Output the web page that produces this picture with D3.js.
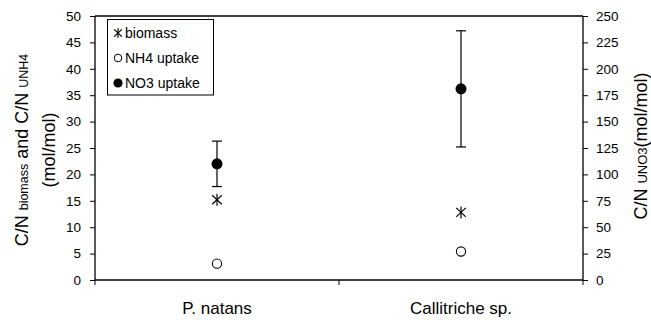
<!DOCTYPE html>
<html><head><meta charset="utf-8">
<script src="https://cdn.jsdelivr.net/npm/d3@7"></script>
<style>body{margin:0;background:#fff}svg{display:block}text{font-family:"Liberation Sans",Arial,sans-serif;fill:#000}</style>
</head><body>
<svg id="c" width="651" height="320"></svg>
<script>
const categories = ["P. natans", "Callitriche sp."];
const biomass = [15.2, 12.8];        // left axis
const nh4Uptake = [3.1, 5.4];        // left axis
const no3Uptake = [110, 181];        // right axis
const no3Err = [21.5, 55];           // right axis
const leftTicks = [0,5,10,15,20,25,30,35,40,45,50];
const rightTicks = [0,25,50,75,100,125,150,175,200,225,250];
const legendLabels = ["biomass", "NH4 uptake", "NO3 uptake"];

const svg = d3.select("#c");
const L = 95, R = 583, T = 16, B = 280;
const x = d3.scaleBand().domain(categories).range([L, R]).padding(0);
const yL = d3.scaleLinear().domain([0, 50]).range([B, T]);
const yR = d3.scaleLinear().domain([0, 250]).range([B, T]);

svg.append("line").attr("x1", L).attr("x2", R).attr("y1", T).attr("y2", T).attr("stroke", "#000").attr("stroke-width", 1.3);

const gl = svg.append("g").attr("transform", `translate(${L},0)`)
  .call(d3.axisLeft(yL).tickValues(leftTicks).tickSize(5).tickPadding(9));
const gr = svg.append("g").attr("transform", `translate(${R},0)`)
  .call(d3.axisRight(yR).tickValues(rightTicks).tickSize(5).tickPadding(8));
[gl, gr].forEach(g => {
  g.select(".domain").attr("stroke-width", 1.3);
  g.selectAll("text").style("font-size", "13.5px").style("font-family", '"Liberation Sans",Arial,sans-serif');
});
gl.select(".domain").attr("d", `M-0,${T}H0V${B}`);
gr.select(".domain").attr("d", `M0,${T}H0V${B}`);

const gx = svg.append("g").attr("transform", `translate(0,${B})`);
gx.append("line").attr("x1", L).attr("x2", R).attr("stroke", "#000").attr("stroke-width", 1.3);
const bounds = [L, L + x.bandwidth(), R];
gx.selectAll("line.t").data(bounds).enter().append("line").attr("class", "t")
  .attr("x1", d => d).attr("x2", d => d).attr("y1", 0).attr("y2", 5).attr("stroke", "#000");
gx.selectAll("text").data(categories).enter().append("text")
  .attr("x", d => x(d) + x.bandwidth() / 2).attr("y", 34)
  .attr("text-anchor", "middle").style("font-size", "17px").text(d => d);

function star(g, cx, cy, s) {
  const p = g.append("g").attr("transform", `translate(${cx},${cy})`).attr("stroke", "#000").attr("stroke-width", 1.2);
  p.append("line").attr("x1", 0).attr("x2", 0).attr("y1", -s).attr("y2", s);
  const a = s * 0.8, b = s * 0.75;
  p.append("line").attr("x1", -a).attr("x2", a).attr("y1", -b).attr("y2", b);
  p.append("line").attr("x1", -a).attr("x2", a).attr("y1", b).attr("y2", -b);
}

const plot = svg.append("g");
categories.forEach((c, i) => {
  const cx = x(c) + x.bandwidth() / 2;
  const top = yR(no3Uptake[i] + no3Err[i]), bot = yR(no3Uptake[i] - no3Err[i]);
  plot.append("line").attr("x1", cx).attr("x2", cx).attr("y1", top).attr("y2", bot).attr("stroke", "#000").attr("stroke-width", 1.2);
  [top, bot].forEach(yy => plot.append("line").attr("x1", cx - 5).attr("x2", cx + 5).attr("y1", yy).attr("y2", yy).attr("stroke", "#000").attr("stroke-width", 1.2));
  plot.append("circle").attr("cx", cx).attr("cy", yR(no3Uptake[i])).attr("r", 5.5).attr("fill", "#000");
  star(plot, cx, yL(biomass[i]), 6);
  plot.append("circle").attr("cx", cx).attr("cy", yL(nh4Uptake[i])).attr("r", 4.6).attr("fill", "#fff").attr("stroke", "#000").attr("stroke-width", 1.1);
});

const lg = svg.append("g");
lg.append("rect").attr("x", 107.5).attr("y", 19.5).attr("width", 106).attr("height", 75.5).attr("fill", "#fff").attr("stroke", "#000").attr("stroke-width", 1);
const rowsY = [33, 58, 83];
star(lg, 118, rowsY[0], 4.8);
lg.append("circle").attr("cx", 118).attr("cy", rowsY[1]).attr("r", 3.8).attr("fill", "#fff").attr("stroke", "#000").attr("stroke-width", 1);
lg.append("circle").attr("cx", 118).attr("cy", rowsY[2]).attr("r", 4.6).attr("fill", "#000");
legendLabels.forEach((t, i) => lg.append("text").attr("x", 125).attr("y", rowsY[i] + 5).style("font-size", "14px").text(t));

const lt = svg.append("g").attr("transform", "translate(28,150) rotate(-90)");
const t1 = lt.append("text").attr("text-anchor", "middle").style("font-size", "18px");
t1.append("tspan").text("C/N ");
t1.append("tspan").style("font-size", "12.5px").text("biomass");
t1.append("tspan").text(" and C/N ");
t1.append("tspan").style("font-size", "12.5px").text("UNH4");
lt.append("text").attr("text-anchor", "middle").attr("y", 27).style("font-size", "18px").text("(mol/mol)");

const rt = svg.append("g").attr("transform", "translate(647,146) rotate(-90)");
const t2 = rt.append("text").attr("text-anchor", "middle").style("font-size", "18px");
t2.append("tspan").text("C/N ");
t2.append("tspan").style("font-size", "13px").text("UNO3");
t2.append("tspan").text("(mol/mol)");
</script>
</body></html>
